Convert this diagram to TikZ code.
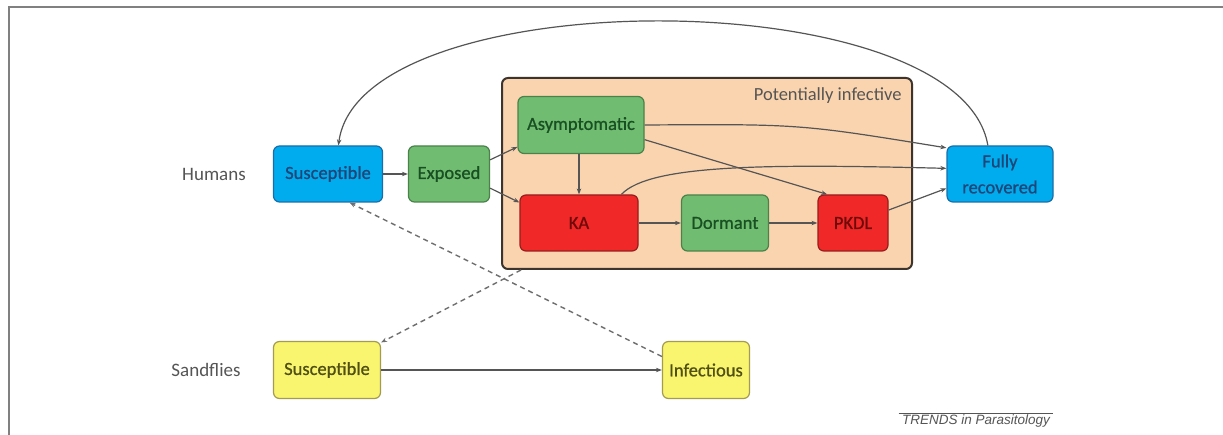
\documentclass[tikz,border=0pt]{standalone}
\usepackage{fontspec}
\setmainfont{Carlito}
\newfontfamily\semibf[FakeBold=0.9]{Carlito}
\newfontfamily\arialf{Liberation Sans}
\usetikzlibrary{arrows.meta,calc}
\definecolor{bfill}{RGB}{0,172,238}
\definecolor{bdraw}{RGB}{25,110,170}
\definecolor{btext}{RGB}{30,70,120}
\definecolor{gfill}{RGB}{112,188,112}
\definecolor{gdraw}{RGB}{75,130,75}
\definecolor{gtext}{RGB}{25,80,35}
\definecolor{rfill}{RGB}{240,40,40}
\definecolor{rdraw}{RGB}{150,30,30}
\definecolor{rtext}{RGB}{110,10,10}
\definecolor{yfill}{RGB}{250,245,110}
\definecolor{ydraw}{RGB}{165,155,80}
\definecolor{ytext}{RGB}{80,80,20}
\definecolor{peach}{RGB}{250,212,175}
\definecolor{framedraw}{RGB}{60,52,45}
\definecolor{lab}{RGB}{85,85,85}
\definecolor{edge}{RGB}{85,85,85}
\tikzset{
  statebox/.style={draw, rounded corners=6pt, line width=1.2pt, align=center,
    font=\semibf\fontsize{18.5}{26}\selectfont, inner sep=2pt},
  blues/.style={statebox, fill=bfill, draw=bdraw, text=btext},
  greens/.style={statebox, fill=gfill, draw=gdraw, text=gtext},
  reds/.style={statebox, fill=rfill, draw=rdraw, text=rtext},
  yellows/.style={statebox, fill=yfill, draw=ydraw, text=ytext},
  grouplab/.style={text=lab, font=\fontsize{19}{22}\selectfont},
  conn/.style={draw=edge, line width=1.2pt, -{Stealth[length=6pt,width=4.5pt]}},
  dconn/.style={conn, dashed, dash pattern=on 5pt off 4pt, line width=1.4pt, draw=edge!85}
}
\begin{document}
\begin{tikzpicture}[x=1pt,y=-1pt]
\useasboundingbox (0,0) rectangle (1223,435);
\fill[white] (0,0) rectangle (1223,435);
\draw[gray, line width=2pt] (8,7) -- (1223,7);
\draw[gray, line width=2pt] (9,7) -- (9,435);

% big group box
\node[draw=framedraw, fill=peach, line width=2pt, rounded corners=6pt,
  minimum width=410pt, minimum height=191pt] (grp) at (707,173.5) {};
\node[anchor=east, text=lab, font=\fontsize{18.5}{22}\selectfont] (potlab) at (905,96) {Potentially infective};

\node[grouplab] (hum) at (214,174) {Humans};
\node[grouplab] (sfl) at (206,370) {Sandflies};

\node[blues, minimum width=109pt, minimum height=56pt] (sus) at (328,174) {Susceptible};
\node[greens, minimum width=81pt, minimum height=56pt] (exp) at (449,174) {Exposed};
\node[greens, minimum width=126pt, minimum height=57pt] (asy) at (581,125) {Asymptomatic};
\node[reds, minimum width=118pt, minimum height=56pt] (ka) at (579,223) {KA};
\node[greens, minimum width=87pt, minimum height=56pt] (dor) at (725,223) {Dormant};
\node[reds, minimum width=70pt, minimum height=56pt] (pk) at (853,223) {PKDL};
\node[blues, minimum width=106pt, minimum height=56pt] (fr) at (1000,174) {Fully\\recovered};

\node[yellows, minimum width=107pt, minimum height=57pt] (ssus) at (327,370) {Susceptible};
\node[yellows, minimum width=87pt, minimum height=57pt] (inf) at (706,370) {Infectious};

\node[text=lab, font=\arialf\itshape\fontsize{13.5}{15}\selectfont] (trends) at (976,421) {TRENDS in Parasitology};
\draw[lab, line width=0.8pt] ($(trends.north west)+(0,2)$) -- ($(trends.north east)+(0,2)$);

% human transitions
\draw[conn] (sus) -- (exp);
\draw[conn] (exp.19) -- (asy.199);
\draw[conn] (exp.-19) -- (ka.161);
\draw[conn] (asy.south -| ka) -- (ka.north);
\draw[conn] (ka) -- (dor);
\draw[conn] (dor) -- (pk);
\draw[conn] (asy.east) .. controls (800,124) .. (fr.154);
\draw[conn] (asy.-13) -- (pk.132);
\draw[conn] (ka.34) .. controls (650,164) and (770,164) .. (fr.174);
\draw[conn] (pk.20) -- (fr.195);
\draw[conn] (fr.113) .. controls (960,-20) and (360,-20) .. (sus.70);

% sandfly transitions
\draw[conn] (ssus) -- (inf);
\draw[dconn] ($(grp.south west)+(20,0)$) -- (ssus.27);
\draw[dconn] (inf.163) -- (sus.-53);
\end{tikzpicture}
\end{document}
